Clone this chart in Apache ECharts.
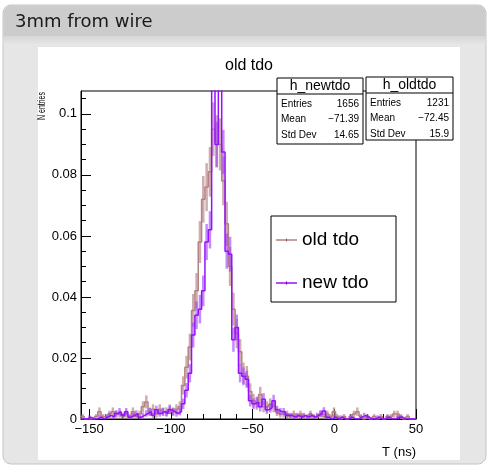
<!DOCTYPE html>
<html>
<head>
<meta charset="utf-8">
<title>3mm from wire</title>
<script src="https://cdn.jsdelivr.net/npm/echarts@6/dist/echarts.min.js"></script>
<style>
  html, body { margin: 0; padding: 0; background: #fff; }
  #chart { width: 489px; height: 467px; }
</style>
</head>
<body>
<div id="chart"></div>
<script>
// histogram range, 100 bins between xMin and xMax (ns)
const xMin = -155;
const xMax = 50;
const yMax = 0.1075;

// old tdo bin contents
const oldTdo = [
  0.0008, 0, 0, 0, 0.0008, 0.0024, 0.0008, 0.0008, 0.0016, 0.0024,
  0.0016, 0.0016, 0.0008, 0.0016, 0.0008, 0.0024, 0.0008, 0.0016, 0.0040, 0.0056,
  0.0024, 0.0032, 0.0016, 0.0032, 0.0024, 0.0024, 0.0032, 0.0024,
  0.0032, 0.004, 0.011, 0.017, 0.0236, 0.0356, 0.042, 0.058, 0.072, 0.076,
  0.081, 0.095, 0.091, 0.090, 0.078, 0.064, 0.050, 0.036, 0.028, 0.022,
  0.015, 0.014, 0.009, 0.006, 0.005, 0.008, 0.004,
  0.004, 0.0048, 0.004, 0.0024, 0.0016, 0.0016, 0.0016, 0.0008, 0.0016, 0.0008,
  0.0016, 0.0008, 0.0008, 0.0016, 0.0008, 0.0008, 0.0016, 0.0008, 0.0016, 0.0008,
  0.0024, 0.0008, 0, 0.0008, 0, 0.0008, 0.0016, 0.0024, 0.0008, 0,
  0.0008, 0, 0.0008, 0, 0.0008, 0, 0.0008, 0.0008, 0.0016, 0.0016,
  0.0008, 0, 0.0008, 0, 0
];
// new tdo bin contents
const newTdo = [
  0, 0, 0.0006, 0, 0, 0.0006, 0, 0.0006, 0.0012, 0.0006,
  0.0018, 0.0024, 0.0012, 0.0024, 0.0006, 0.0012, 0.0018, 0.0006, 0.0012, 0.0018,
  0.0024, 0.0012, 0.0030, 0.0018, 0.0024, 0.0018, 0.0030, 0.0024,
  0.0018, 0.0024, 0.005, 0.0094, 0.015, 0.0275, 0.034, 0.036, 0.042, 0.058,
  0.062, 0.13, 0.090, 0.12, 0.0875, 0.055, 0.054, 0.026, 0.030, 0.015,
  0.014, 0.013, 0.006, 0.005, 0.0055, 0.004, 0.0065,
  0.003, 0.0036, 0.006, 0.003, 0.0024, 0.0024, 0.0012, 0.0012, 0.0006, 0.0012,
  0.0006, 0.0012, 0.0006, 0.0012, 0.0006, 0.0012, 0.0018, 0.0026, 0.0006, 0,
  0.0006, 0, 0.0006, 0, 0, 0.0006, 0, 0, 0.0006, 0.0012,
  0.0006, 0, 0, 0.0006, 0, 0, 0.0006, 0, 0, 0.0006,
  0.0006, 0, 0, 0, 0
];

const xMajorTicks = [-150, -100, -50, 0, 50];
const xMinorTicks = [-140, -130, -120, -110, -90, -80, -70, -60, -40, -30, -20, -10, 10, 20, 30, 40];
const yMajorTicks = [0, 0.02, 0.04, 0.06, 0.08, 0.1];
const yMinorTicks = [0.005, 0.01, 0.015, 0.025, 0.03, 0.035, 0.045, 0.05, 0.055,
  0.065, 0.07, 0.075, 0.085, 0.09, 0.095, 0.105];

const statsNew = { name: 'h_newtdo', entries: 1656, rows: [['Entries', '1656'], ['Mean', '\u221271.39'], ['Std Dev', '14.65']] };
const statsOld = { name: 'h_oldtdo', entries: 1231, rows: [['Entries', '1231'], ['Mean', '\u221272.45'], ['Std Dev', '15.9']] };

const oldColor = '#b48282';
const oldErrColor = 'rgba(180,130,130,0.65)';
const newColor = '#9410ff';
const newErrColor = 'rgba(160,60,255,0.6)';
const FONT = '"Liberation Sans", Arial, sans-serif';

// step outline of a histogram: each bin gives its two edges at the bin height
function stepPoints(values) {
  const w = (xMax - xMin) / values.length;
  const pts = [];
  values.forEach((v, i) => {
    pts.push([xMin + i * w, v]);
    pts.push([xMin + (i + 1) * w, v]);
  });
  return pts;
}
// poisson error bars from bin heights, one count = 1/entries
function errPoints(values, entries) {
  const w = (xMax - xMin) / values.length;
  const q = 1 / entries;
  const out = [];
  values.forEach((v, i) => {
    if (v <= 0) return;
    const e = Math.sqrt(v * q);
    out.push([xMin + (i + 0.5) * w, v - e, v + e]);
  });
  return out;
}
function errRender(color) {
  return function (params, api) {
    const p1 = api.coord([api.value(0), api.value(1)]);
    const p2 = api.coord([api.value(0), api.value(2)]);
    return {
      type: 'line',
      shape: { x1: p1[0], y1: p1[1], x2: p2[0], y2: p2[1] },
      style: { stroke: color, lineWidth: 2.5 }
    };
  };
}
function minus(v) { return String(v).replace('-', '\u2212'); }

// stats box (ROOT style)
function statsBox(st, x, y, w, h) {
  const els = [
    { type: 'rect', shape: { x: x, y: y, width: w, height: h }, style: { fill: '#fff', stroke: '#000', lineWidth: 1 } },
    { type: 'line', shape: { x1: x, y1: y + 16, x2: x + w, y2: y + 16 }, style: { stroke: '#000', lineWidth: 1 } },
    { type: 'text', x: x + w / 2, y: y + 8.5, style: { text: st.name, font: '14px ' + FONT, fill: '#000', align: 'center', verticalAlign: 'middle' } }
  ];
  st.rows.forEach((r, i) => {
    const ty = y + 26 + i * 15.5;
    els.push({ type: 'text', x: x + 4, y: ty, style: { text: r[0], font: '10px ' + FONT, fill: '#000', align: 'left', verticalAlign: 'middle' } });
    els.push({ type: 'text', x: x + w - 4, y: ty, style: { text: r[1], font: '10px ' + FONT, fill: '#000', align: 'right', verticalAlign: 'middle' } });
  });
  return { type: 'group', z: 20, children: els };
}

const chart = echarts.init(document.getElementById('chart'), null, { renderer: 'canvas' });

const option = {
  animation: false,
  grid: { left: 81, top: 91, width: 335, height: 328, show: true, borderColor: '#000', borderWidth: 1, backgroundColor: 'transparent' },
  xAxis: [
    {
      type: 'value', min: xMin, max: xMax, position: 'bottom',
      axisLine: { show: true, onZero: false, lineStyle: { color: '#000', width: 1 } },
      axisTick: { show: true, inside: true, length: 10, customValues: xMajorTicks, lineStyle: { color: '#000' } },
      axisLabel: { customValues: xMajorTicks, formatter: minus, color: '#000', fontSize: 13, fontFamily: FONT, margin: 4 },
      splitLine: { show: false }
    },
    {
      type: 'value', min: xMin, max: xMax, position: 'bottom',
      axisLine: { show: false, onZero: false },
      axisTick: { show: true, inside: true, length: 5, customValues: xMinorTicks, lineStyle: { color: '#000' } },
      axisLabel: { show: false },
      splitLine: { show: false }
    }
  ],
  yAxis: [
    {
      type: 'value', min: 0, max: yMax, position: 'left',
      axisLine: { show: true, onZero: false, lineStyle: { color: '#000', width: 1 } },
      axisTick: { show: true, inside: true, length: 10, customValues: yMajorTicks, lineStyle: { color: '#000' } },
      axisLabel: { customValues: yMajorTicks, formatter: v => String(v), color: '#000', fontSize: 13, fontFamily: FONT, margin: 4 },
      splitLine: { show: false }
    },
    {
      type: 'value', min: 0, max: yMax, position: 'left',
      axisLine: { show: false, onZero: false },
      axisTick: { show: true, inside: true, length: 5, customValues: yMinorTicks, lineStyle: { color: '#000' } },
      axisLabel: { show: false },
      splitLine: { show: false }
    }
  ],
  series: [
    {
      name: 'old tdo err', type: 'custom', clip: true, z: 2,
      renderItem: errRender(oldErrColor), data: errPoints(oldTdo, statsOld.entries)
    },
    {
      name: 'old tdo', type: 'line', clip: true, z: 3, symbol: 'none', showSymbol: false,
      lineStyle: { color: oldColor, width: 1.5 }, data: stepPoints(oldTdo)
    },
    {
      name: 'new tdo err', type: 'custom', clip: true, z: 4,
      renderItem: errRender(newErrColor), data: errPoints(newTdo, statsNew.entries)
    },
    {
      name: 'new tdo', type: 'line', clip: true, z: 5, symbol: 'none', showSymbol: false,
      lineStyle: { color: newColor, width: 1.5 }, data: stepPoints(newTdo)
    }
  ],
  graphic: [
    // panel background
    { type: 'rect', z: -10, shape: { x: 3, y: 5, width: 483, height: 459, r: 8 }, style: { fill: '#e6e6e6', stroke: '#c4c4c4', lineWidth: 1 } },
    { type: 'rect', z: -9, shape: { x: 3.5, y: 5.5, width: 482, height: 31, r: [8, 8, 0, 0] }, style: { fill: '#cccccc' } },
    { type: 'rect', z: -9, shape: { x: 3.5, y: 36.5, width: 482, height: 8 },
      style: { fill: new echarts.graphic.LinearGradient(0, 0, 0, 1, [{ offset: 0, color: '#d6d6d6' }, { offset: 1, color: '#e6e6e6' }]) } },
    { type: 'text', z: -8, x: 15, y: 22, style: { text: '3mm from wire', font: '18px "DejaVu Sans", sans-serif', fill: '#1a1a1a', verticalAlign: 'middle' } },
    // white pad
    { type: 'rect', z: -8, shape: { x: 38, y: 47, width: 422, height: 413 }, style: { fill: '#fff' } },
    // pad title
    { type: 'text', z: 10, x: 249, y: 66, style: { text: 'old tdo', font: '16px ' + FONT, fill: '#000', align: 'center', verticalAlign: 'middle' } },
    // axis titles
    { type: 'text', z: 10, x: 42, y: 92, rotation: Math.PI / 2, scaleX: 0.7,
      style: { text: 'N entries', font: '10px ' + FONT, fill: '#000', align: 'right', verticalAlign: 'middle' } },
    { type: 'text', z: 10, x: 416, y: 452, style: { text: 'T (ns)', font: '13px ' + FONT, fill: '#000', align: 'right', verticalAlign: 'middle' } },
    // stats boxes
    statsBox(statsNew, 277, 78, 86, 66),
    statsBox(statsOld, 366, 77, 87, 63),
    // legend
    {
      type: 'group', z: 20, children: [
        { type: 'rect', shape: { x: 271, y: 216, width: 125, height: 86 }, style: { fill: '#fff', stroke: '#000', lineWidth: 1 } },
        { type: 'line', shape: { x1: 276, y1: 240, x2: 297, y2: 240 }, style: { stroke: oldColor, lineWidth: 1.5 } },
        { type: 'line', shape: { x1: 286.5, y1: 238.5, x2: 286.5, y2: 241.5 }, style: { stroke: '#8a5a5a', lineWidth: 1 } },
        { type: 'text', x: 302, y: 240, style: { text: 'old tdo', font: '19px ' + FONT, fill: '#000', verticalAlign: 'middle' } },
        { type: 'line', shape: { x1: 276, y1: 283, x2: 297, y2: 283 }, style: { stroke: newColor, lineWidth: 1.5 } },
        { type: 'line', shape: { x1: 286.5, y1: 281.5, x2: 286.5, y2: 284.5 }, style: { stroke: '#6a00c0', lineWidth: 1 } },
        { type: 'text', x: 302, y: 283, style: { text: 'new tdo', font: '19px ' + FONT, fill: '#000', verticalAlign: 'middle' } }
      ]
    }
  ]
};

chart.setOption(option);
</script>
</body>
</html>
